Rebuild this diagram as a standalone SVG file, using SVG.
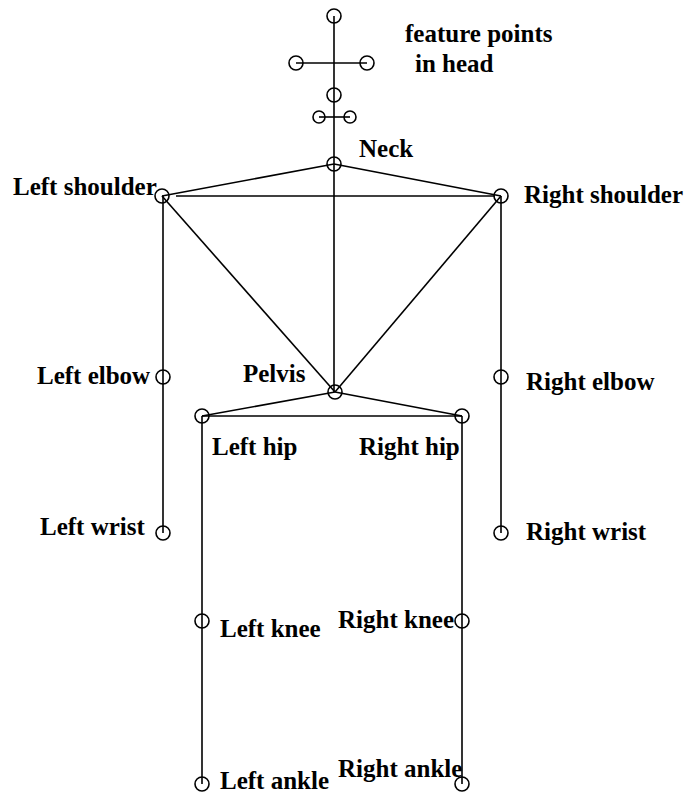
<svg xmlns="http://www.w3.org/2000/svg" width="688" height="793" viewBox="0 0 688 793">
<style>
.l{stroke:#000;stroke-width:1.6;fill:none}
.c{stroke:#000;stroke-width:1.6;fill:none}
.t{font-family:"Liberation Serif","Times New Roman",serif;font-weight:bold;font-size:25px;fill:#000}
</style>
<rect width="688" height="793" fill="#fff"/>
<g id="connectors">
<line class="l" x1="334" y1="16" x2="334" y2="392"/>
<line class="l" x1="296" y1="63" x2="367" y2="63"/>
<line class="l" x1="319" y1="117" x2="350" y2="117"/>
<line class="l" x1="334" y1="164" x2="162" y2="196"/>
<line class="l" x1="334" y1="164" x2="501" y2="196"/>
<line class="l" x1="176" y1="196" x2="495" y2="196"/>
<line class="l" x1="162" y1="196" x2="335" y2="392"/>
<line class="l" x1="501" y1="196" x2="335" y2="392"/>
<line class="l" x1="163" y1="196" x2="163" y2="533"/>
<line class="l" x1="501" y1="196" x2="501" y2="533"/>
<line class="l" x1="335" y1="392" x2="202" y2="416"/>
<line class="l" x1="335" y1="392" x2="462" y2="416"/>
<line class="l" x1="202" y1="416" x2="462" y2="416"/>
<line class="l" x1="202" y1="416" x2="202" y2="784"/>
<line class="l" x1="462" y1="416" x2="462" y2="784"/>
</g>
<g id="head">
<circle class="c" cx="334" cy="16" r="7"/>
<circle class="c" cx="296" cy="63" r="7"/>
<circle class="c" cx="367" cy="63" r="7"/>
<circle class="c" cx="334" cy="95" r="7"/>
<circle class="c" cx="319" cy="117" r="6"/>
<circle class="c" cx="350" cy="117" r="6"/>
<text class="t" x="405" y="42">feature points</text>
<text class="t" x="415" y="72">in head</text>
</g>
<g id="neck"><circle class="c" cx="334" cy="164" r="7"/><text class="t" x="359" y="157">Neck</text></g>
<g id="left-shoulder"><circle class="c" cx="162" cy="196" r="7"/><text class="t" x="13" y="195">Left shoulder</text></g>
<g id="right-shoulder"><circle class="c" cx="501" cy="196" r="7"/><text class="t" x="524" y="203">Right shoulder</text></g>
<g id="left-elbow"><circle class="c" cx="163" cy="377" r="7"/><text class="t" x="37" y="384">Left elbow</text></g>
<g id="right-elbow"><circle class="c" cx="501" cy="377" r="7"/><text class="t" x="526" y="390">Right elbow</text></g>
<g id="pelvis"><circle class="c" cx="335" cy="392" r="7"/><text class="t" x="243" y="382">Pelvis</text></g>
<g id="left-hip"><circle class="c" cx="202" cy="416" r="7"/><text class="t" x="212" y="455">Left hip</text></g>
<g id="right-hip"><circle class="c" cx="462" cy="416" r="7"/><text class="t" x="359" y="455">Right hip</text></g>
<g id="left-wrist"><circle class="c" cx="163" cy="533" r="7"/><text class="t" x="40" y="535">Left wrist</text></g>
<g id="right-wrist"><circle class="c" cx="501" cy="533" r="7"/><text class="t" x="526" y="540">Right wrist</text></g>
<g id="left-knee"><circle class="c" cx="202" cy="621" r="7"/><text class="t" x="220" y="637">Left knee</text></g>
<g id="right-knee"><circle class="c" cx="462" cy="621" r="7"/><text class="t" x="338" y="628">Right knee</text></g>
<g id="left-ankle"><circle class="c" cx="202" cy="784" r="7"/><text class="t" x="220" y="789">Left ankle</text></g>
<g id="right-ankle"><circle class="c" cx="462" cy="784" r="7"/><text class="t" x="338" y="777">Right ankle</text></g>
</svg>
